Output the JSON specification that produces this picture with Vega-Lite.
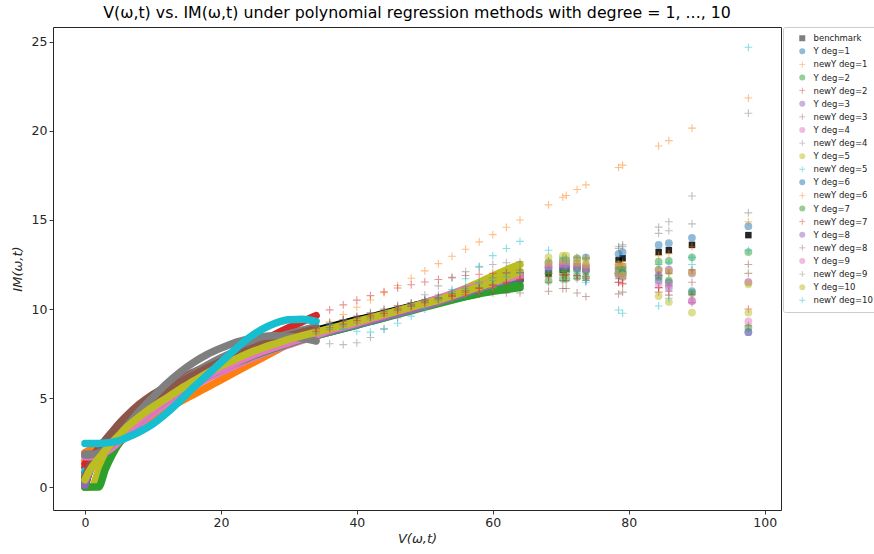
{
"$schema": "https://vega.github.io/schema/vega-lite/v6.json",
"width": 728, "height": 483,
"autosize": {"type": "none"},
"padding": {"left": 53, "right": 93, "top": 27, "bottom": 44},
"background": "white",
"title": {"text": "V(ω,t) vs. IM(ω,t) under polynomial regression methods with degree = 1, ..., 10", "font": "DejaVu Sans", "fontSize": 15.8, "fontWeight": "normal", "color": "black", "anchor": "middle", "offset": 5},
"data": {"values": [
{"x":0,"a":0,"b":0.6,"c":1.94,"d":0.5,"e":1.1,"f":0.2,"g":0.8,"h":1.75,"i":1.85,"j":0.0,"k":0.9,"l":0.3,"m":1.5,"n":0.0,"o":1.3,"p":0.1,"q":0.5,"r":1.7,"s":1.8,"t":0.4,"u":2.45},
{"x":0.5,"a":0.7,"b":1.0,"c":2.04,"d":0.9,"e":1.27,"f":0.75,"g":1.2,"h":1.75,"i":1.85,"j":0.0,"k":1.2,"l":0.85,"m":1.6,"n":0.0,"o":1.5,"p":0.7,"q":1.0,"r":1.7,"s":1.8,"t":0.8,"u":2.45},
{"x":1,"a":1.2,"b":1.3,"c":2.14,"d":1.2,"e":1.44,"f":1.15,"g":1.55,"h":1.78,"i":1.87,"j":0.0,"k":1.45,"l":1.2,"m":1.75,"n":0.0,"o":1.7,"p":1.1,"q":1.4,"r":1.72,"s":1.82,"t":1.1,"u":2.45},
{"x":2,"a":1.95,"b":1.8,"c":2.35,"d":1.7,"e":1.77,"f":1.75,"g":2.15,"h":1.85,"i":1.95,"j":0.9,"k":1.9,"l":1.85,"m":2.05,"n":0.0,"o":2.1,"p":1.7,"q":2.05,"r":1.8,"s":1.9,"t":1.6,"u":2.45},
{"x":3,"a":2.5,"b":2.2,"c":2.55,"d":2.15,"e":2.1,"f":2.2,"g":2.65,"h":1.95,"i":2.15,"j":1.6,"k":2.35,"l":2.35,"m":2.4,"n":1.0,"o":2.5,"p":2.2,"q":2.6,"r":1.95,"s":2.1,"t":2.05,"u":2.47},
{"x":4,"a":2.95,"b":2.6,"c":2.76,"d":2.6,"e":2.42,"f":2.6,"g":3.1,"h":2.1,"i":2.5,"j":2.2,"k":2.75,"l":2.8,"m":2.75,"n":1.8,"o":2.9,"p":2.65,"q":3.05,"r":2.2,"s":2.45,"t":2.5,"u":2.52},
{"x":5,"a":3.35,"b":3.0,"c":2.96,"d":3.0,"e":2.74,"f":3.0,"g":3.55,"h":2.45,"i":2.9,"j":2.7,"k":3.15,"l":3.2,"m":3.1,"n":2.45,"o":3.25,"p":3.05,"q":3.45,"r":2.55,"s":2.9,"t":2.9,"u":2.6},
{"x":6,"a":3.7,"b":3.35,"c":3.16,"d":3.4,"e":3.05,"f":3.35,"g":3.95,"h":2.85,"i":3.3,"j":3.1,"k":3.5,"l":3.55,"m":3.45,"n":2.95,"o":3.6,"p":3.4,"q":3.8,"r":2.95,"s":3.35,"t":3.3,"u":2.75},
{"x":8,"a":4.3,"b":4.0,"c":3.57,"d":4.05,"e":3.66,"f":3.95,"g":4.65,"h":3.55,"i":4.05,"j":3.8,"k":4.1,"l":4.15,"m":4.05,"n":3.7,"o":4.2,"p":4.0,"q":4.4,"r":3.7,"s":4.25,"t":3.95,"u":3.1},
{"x":10,"a":4.85,"b":4.55,"c":3.98,"d":4.6,"e":4.25,"f":4.5,"g":5.2,"h":4.15,"i":4.75,"j":4.4,"k":4.65,"l":4.7,"m":4.6,"n":4.35,"o":4.75,"p":4.55,"q":4.95,"r":4.35,"s":5.05,"t":4.5,"u":3.55},
{"x":12,"a":5.35,"b":5.05,"c":4.39,"d":5.1,"e":4.82,"f":5.0,"g":5.65,"h":4.7,"i":5.35,"j":4.95,"k":5.15,"l":5.2,"m":5.1,"n":4.9,"o":5.25,"p":5.05,"q":5.45,"r":4.9,"s":5.8,"t":5.0,"u":4.15},
{"x":14,"a":5.8,"b":5.5,"c":4.8,"d":5.55,"e":5.36,"f":5.45,"g":6.05,"h":5.2,"i":5.9,"j":5.45,"k":5.6,"l":5.65,"m":5.55,"n":5.4,"o":5.7,"p":5.5,"q":5.9,"r":5.4,"s":6.45,"t":5.5,"u":4.85},
{"x":16,"a":6.2,"b":5.9,"c":5.2,"d":5.95,"e":5.88,"f":5.9,"g":6.45,"h":5.65,"i":6.4,"j":5.9,"k":6.0,"l":6.05,"m":5.95,"n":5.85,"o":6.1,"p":5.9,"q":6.3,"r":5.85,"s":7.0,"t":5.95,"u":5.6},
{"x":18,"a":6.6,"b":6.3,"c":5.61,"d":6.35,"e":6.39,"f":6.3,"g":6.8,"h":6.1,"i":6.85,"j":6.3,"k":6.4,"l":6.45,"m":6.35,"n":6.25,"o":6.5,"p":6.3,"q":6.7,"r":6.25,"s":7.45,"t":6.4,"u":6.3},
{"x":20,"a":6.95,"b":6.65,"c":6.02,"d":6.7,"e":6.87,"f":6.65,"g":7.15,"h":6.45,"i":7.25,"j":6.65,"k":6.75,"l":6.8,"m":6.7,"n":6.6,"o":6.85,"p":6.65,"q":7.05,"r":6.6,"s":7.8,"t":6.8,"u":7.0},
{"x":22,"a":7.3,"b":7.0,"c":6.43,"d":7.05,"e":7.33,"f":7.0,"g":7.5,"h":6.8,"i":7.6,"j":7.0,"k":7.1,"l":7.15,"m":7.05,"n":6.95,"o":7.2,"p":7.0,"q":7.4,"r":6.95,"s":8.1,"t":7.15,"u":7.7},
{"x":24,"a":7.6,"b":7.3,"c":6.84,"d":7.35,"e":7.76,"f":7.35,"g":7.8,"h":7.15,"i":7.9,"j":7.3,"k":7.4,"l":7.45,"m":7.35,"n":7.25,"o":7.5,"p":7.3,"q":7.7,"r":7.3,"s":8.3,"t":7.5,"u":8.35},
{"x":26,"a":7.9,"b":7.6,"c":7.24,"d":7.65,"e":8.18,"f":7.65,"g":8.1,"h":7.45,"i":8.15,"j":7.6,"k":7.7,"l":7.75,"m":7.65,"n":7.55,"o":7.8,"p":7.6,"q":8.0,"r":7.6,"s":8.45,"t":7.8,"u":8.85},
{"x":28,"a":8.15,"b":7.85,"c":7.65,"d":7.9,"e":8.58,"f":7.9,"g":8.35,"h":7.75,"i":8.4,"j":7.85,"k":7.95,"l":8.0,"m":7.9,"n":7.8,"o":8.05,"p":7.85,"q":8.25,"r":7.85,"s":8.5,"t":8.05,"u":9.2},
{"x":30,"a":8.4,"b":8.1,"c":8.06,"d":8.15,"e":8.95,"f":8.15,"g":8.6,"h":8.0,"i":8.6,"j":8.1,"k":8.2,"l":8.25,"m":8.15,"n":8.05,"o":8.3,"p":8.1,"q":8.5,"r":8.1,"s":8.45,"t":8.3,"u":9.4},
{"x":32,"a":8.6,"b":8.3,"c":8.47,"d":8.4,"e":9.3,"f":8.4,"g":8.8,"h":8.25,"i":8.8,"j":8.35,"k":8.45,"l":8.45,"m":8.4,"n":8.3,"o":8.55,"p":8.35,"q":8.7,"r":8.35,"s":8.35,"t":8.5,"u":9.42},
{"x":34,"a":8.8,"b":8.5,"c":8.88,"d":8.6,"e":9.63,"f":8.6,"g":9.0,"h":8.5,"i":9.0,"j":8.55,"k":8.65,"l":8.65,"m":8.6,"n":8.5,"o":8.75,"p":8.55,"q":8.9,"r":8.55,"s":8.2,"t":8.7,"u":9.3},
{"x":36,"a":9.0,"b":8.7,"c":9.28,"d":8.8,"e":9.95,"f":8.8,"g":9.2,"h":8.7,"i":9.2,"j":8.75,"k":8.85,"l":8.85,"m":8.8,"n":8.7,"o":8.95,"p":8.75,"q":9.1,"r":8.8,"s":8.05,"t":8.9,"u":9.1},
{"x":38,"a":9.2,"b":8.9,"c":9.69,"d":9.0,"e":10.23,"f":9.0,"g":9.4,"h":8.95,"i":9.4,"j":8.95,"k":9.05,"l":9.05,"m":9.0,"n":8.9,"o":9.15,"p":8.95,"q":9.3,"r":9.0,"s":8.0,"t":9.1,"u":8.9},
{"x":40,"a":9.4,"b":9.1,"c":10.1,"d":9.2,"e":10.5,"f":9.2,"g":9.6,"h":9.15,"i":9.55,"j":9.15,"k":9.25,"l":9.25,"m":9.2,"n":9.1,"o":9.35,"p":9.15,"q":9.5,"r":9.2,"s":8.1,"t":9.3,"u":8.75},
{"x":42,"a":9.55,"b":9.3,"c":10.51,"d":9.4,"e":10.75,"f":9.4,"g":9.8,"h":9.4,"i":9.75,"j":9.35,"k":9.45,"l":9.4,"m":9.4,"n":9.3,"o":9.55,"p":9.35,"q":9.65,"r":9.45,"s":8.4,"t":9.5,"u":8.7},
{"x":44,"a":9.75,"b":9.5,"c":10.92,"d":9.6,"e":10.97,"f":9.6,"g":10.0,"h":9.6,"i":9.95,"j":9.55,"k":9.65,"l":9.6,"m":9.6,"n":9.5,"o":9.75,"p":9.55,"q":9.85,"r":9.65,"s":8.9,"t":9.7,"u":8.85},
{"x":46,"a":9.95,"b":9.75,"c":11.32,"d":9.8,"e":11.18,"f":9.8,"g":10.2,"h":9.85,"i":10.15,"j":9.8,"k":9.9,"l":9.8,"m":9.8,"n":9.7,"o":9.95,"p":9.75,"q":10.05,"r":9.9,"s":9.5,"t":9.9,"u":9.2},
{"x":48,"a":10.15,"b":10.0,"c":11.73,"d":10.0,"e":11.36,"f":10.0,"g":10.35,"h":10.05,"i":10.35,"j":10.05,"k":10.15,"l":10.0,"m":10.0,"n":9.9,"o":10.15,"p":9.95,"q":10.25,"r":10.1,"s":10.2,"t":10.1,"u":9.6},
{"x":50,"a":10.35,"b":10.25,"c":12.14,"d":10.2,"e":11.52,"f":10.2,"g":10.5,"h":10.3,"i":10.55,"j":10.3,"k":10.4,"l":10.2,"m":10.2,"n":10.1,"o":10.35,"p":10.15,"q":10.45,"r":10.35,"s":10.8,"t":10.3,"u":10.0},
{"x":52,"a":10.55,"b":10.5,"c":12.55,"d":10.4,"e":11.66,"f":10.45,"g":10.6,"h":10.55,"i":10.8,"j":10.55,"k":10.65,"l":10.4,"m":10.4,"n":10.3,"o":10.55,"p":10.4,"q":10.65,"r":10.6,"s":11.3,"t":10.5,"u":10.5},
{"x":54,"a":10.75,"b":10.75,"c":12.96,"d":10.55,"e":11.78,"f":10.7,"g":10.7,"h":10.8,"i":11.0,"j":10.85,"k":10.9,"l":10.6,"m":10.6,"n":10.5,"o":10.75,"p":10.65,"q":10.85,"r":10.85,"s":11.75,"t":10.75,"u":11.1},
{"x":56,"a":10.95,"b":11.0,"c":13.36,"d":10.7,"e":11.88,"f":10.95,"g":10.8,"h":11.0,"i":11.25,"j":11.15,"k":11.15,"l":10.8,"m":10.8,"n":10.7,"o":10.95,"p":10.9,"q":11.05,"r":11.1,"s":12.1,"t":11.0,"u":11.7},
{"x":58,"a":11.15,"b":11.25,"c":13.77,"d":10.85,"e":11.95,"f":11.2,"g":10.85,"h":11.25,"i":11.5,"j":11.5,"k":11.4,"l":11.0,"m":11.0,"n":10.9,"o":11.15,"p":11.15,"q":11.2,"r":11.3,"s":12.35,"t":11.25,"u":12.4},
{"x":60,"a":11.35,"b":11.5,"c":14.18,"d":11.0,"e":12.01,"f":11.45,"g":10.9,"h":11.5,"i":11.75,"j":11.85,"k":11.6,"l":11.2,"m":11.2,"n":11.05,"o":11.35,"p":11.4,"q":11.35,"r":11.5,"s":12.5,"t":11.5,"u":13.0},
{"x":62,"a":11.5,"b":11.75,"c":14.59,"d":11.1,"e":12.04,"f":11.7,"g":10.9,"h":11.75,"i":12.0,"j":12.2,"k":11.8,"l":11.4,"m":11.45,"n":11.2,"o":11.5,"p":11.65,"q":11.45,"r":11.7,"s":12.6,"t":11.8,"u":13.4},
{"x":64,"a":11.65,"b":12.0,"c":15.0,"d":11.2,"e":12.05,"f":11.95,"g":10.9,"h":12.0,"i":12.2,"j":12.5,"k":12.0,"l":11.6,"m":11.7,"n":11.35,"o":11.65,"p":11.85,"q":11.55,"r":11.9,"s":12.65,"t":12.1,"u":13.8},
{"x":68.2,"a":12.0,"b":12.6,"c":15.85,"d":11.6,"e":12.01,"f":12.4,"g":11.0,"h":12.5,"i":12.3,"j":12.9,"k":12.1,"l":12.2,"m":12.0,"n":12.0,"o":11.8,"p":12.3,"q":11.5,"r":12.4,"s":12.7,"t":12.6,"u":13.3},
{"x":70.3,"a":12.2,"b":12.7,"c":16.28,"d":11.7,"e":11.94,"f":12.5,"g":11.15,"h":12.6,"i":12.5,"j":13.0,"k":12.2,"l":12.3,"m":12.1,"n":12.1,"o":11.9,"p":12.4,"q":11.6,"r":12.5,"s":12.8,"t":12.7,"u":12.9},
{"x":70.8,"a":12.25,"b":12.75,"c":16.38,"d":11.7,"e":11.94,"f":12.5,"g":11.15,"h":12.6,"i":12.55,"j":13.0,"k":12.2,"l":12.3,"m":12.1,"n":12.1,"o":11.9,"p":12.4,"q":11.6,"r":12.5,"s":12.85,"t":12.7,"u":12.7},
{"x":72.4,"a":12.4,"b":12.85,"c":16.71,"d":11.8,"e":11.87,"f":12.5,"g":10.9,"h":12.6,"i":12.7,"j":12.85,"k":12.0,"l":12.3,"m":12.2,"n":12.2,"o":11.9,"p":12.3,"q":11.7,"r":12.4,"s":12.9,"t":12.6,"u":12.1},
{"x":73.7,"a":12.3,"b":12.9,"c":16.97,"d":11.8,"e":11.81,"f":12.4,"g":10.7,"h":12.5,"i":12.85,"j":12.8,"k":11.5,"l":12.2,"m":12.2,"n":12.1,"o":11.7,"p":12.2,"q":11.6,"r":12.3,"s":12.85,"t":12.5,"u":11.6},
{"x":78.5,"a":12.75,"b":13.1,"c":17.95,"d":12.0,"e":11.5,"f":12.4,"g":10.85,"h":12.3,"i":13.5,"j":12.5,"k":12.0,"l":12.0,"m":12.5,"n":12.2,"o":11.5,"p":11.9,"q":11.7,"r":12.0,"s":13.4,"t":12.0,"u":9.94},
{"x":79.1,"a":12.85,"b":13.2,"c":18.08,"d":12.0,"e":11.45,"f":12.4,"g":10.95,"h":12.3,"i":13.6,"j":12.4,"k":12.1,"l":12.0,"m":12.55,"n":12.2,"o":11.4,"p":11.8,"q":11.7,"r":11.9,"s":13.5,"t":11.9,"u":9.76},
{"x":84.4,"a":13.2,"b":13.6,"c":19.16,"d":12.66,"e":10.95,"f":12.2,"g":11.2,"h":12.2,"i":14.6,"j":12.2,"k":12.5,"l":11.6,"m":13.0,"n":11.8,"o":11.2,"p":11.9,"q":11.9,"r":11.4,"s":14.25,"t":10.73,"u":10.17},
{"x":85.9,"a":13.3,"b":13.7,"c":19.46,"d":12.7,"e":10.78,"f":12.2,"g":11.3,"h":12.2,"i":14.9,"j":12.1,"k":12.6,"l":11.5,"m":13.1,"n":11.6,"o":11.0,"p":11.2,"q":12.0,"r":11.4,"s":14.4,"t":10.4,"u":10.6},
{"x":89.3,"a":13.6,"b":14.0,"c":20.16,"d":12.9,"e":10.36,"f":12.0,"g":11.5,"h":12.06,"i":16.35,"j":12.06,"k":12.9,"l":11.0,"m":13.5,"n":10.9,"o":10.8,"p":10.45,"q":12.2,"r":10.45,"s":14.78,"t":9.8,"u":12.5},
{"x":97.6,"a":14.15,"b":14.65,"c":21.85,"d":13.2,"e":9.06,"f":11.5,"g":12.0,"h":11.53,"i":21.0,"j":11.39,"k":13.3,"l":8.7,"m":14.9,"n":8.95,"o":10.0,"p":8.7,"q":12.5,"r":9.3,"s":15.4,"t":9.8,"u":24.7}
]},
"transform": [
 {"fold": ["a","b","c","d","e","f","g","h","i","j","k","l","m","n","o","p","q","r","s","t","u"], "as": ["k","v"]},
 {"filter": "isValid(datum.v)"}
],
"encoding": {
 "x": {"field": "x", "type": "quantitative", "scale": {"domain": [-4.7, 102.4], "nice": false, "zero": false},
   "axis": {"values": [0,20,40,60,80,100], "title": "V(ω,t)", "titlePadding": 4, "labelFlush": false}},
 "y": {"field": "v", "type": "quantitative", "scale": {"domain": [-1.29, 25.84], "nice": false, "zero": false},
   "axis": {"values": [0,5,10,15,20,25], "title": "IM(ω,t)", "titlePadding": 7}}
},
"layer": [
 {"transform": [{"filter": "datum.x <= 64 && (datum.x <= 35 || indexof('abdfhjlnprt', datum.k) >= 0)"}],
  "mark": {"type": "line", "strokeWidth": 7.5, "strokeCap": "round", "strokeJoin": "round", "interpolate": "monotone"},
  "encoding": {"stroke": {"field": "k", "type": "nominal", "legend": null,
    "scale": {"domain": ["a","b","c","d","e","f","g","h","i","j","k","l","m","n","o","p","q","r","s","t","u","zz"],
      "range": ["#000000","#1f77b4","#ff7f0e","#2ca02c","#d62728","#9467bd","#8c564b","#e377c2","#7f7f7f","#bcbd22","#17becf","#1f77b4","#ff7f0e","#2ca02c","#d62728","#9467bd","#8c564b","#e377c2","#7f7f7f","#bcbd22","#17becf","#ffffff"]}}}},
 {"transform": [{"filter": "datum.k == 'a' && datum.x > 64"}],
  "mark": {"type": "point", "shape": "square", "filled": true, "size": 42, "opacity": 0.85, "color": "#000000"},
  "encoding": {}},
 {"transform": [{"filter": "datum.k != 'a' && (datum.x > 64 || (datum.x >= 34 && indexof('cegikmoqsu', datum.k) >= 0))"}],
  "mark": {"type": "point", "filled": true, "size": 60, "opacity": 0.5},
  "encoding": {
   "color": {"field": "k", "type": "nominal",
    "scale": {"domain": ["a","b","c","d","e","f","g","h","i","j","k","l","m","n","o","p","q","r","s","t","u"],
      "range": ["#000000","#1f77b4","#ff7f0e","#2ca02c","#d62728","#9467bd","#8c564b","#e377c2","#7f7f7f","#bcbd22","#17becf","#1f77b4","#ff7f0e","#2ca02c","#d62728","#9467bd","#8c564b","#e377c2","#7f7f7f","#bcbd22","#17becf"]},
    "legend": {"title": null, "orient": "right", "offset": 2,
      "labelExpr": "datum.value == 'a' ? 'benchmark' : (indexof('bdfhjlnprt', datum.value) >= 0 ? 'Y deg=' : 'newY deg=') + (floor((indexof('abcdefghijklmnopqrstu', datum.value) + 1) / 2))",
      "labelFont": "DejaVu Sans", "labelFontSize": 8.5, "labelColor": "#222222", "labelOffset": 7,
      "symbolSize": 36, "symbolOffset": 8, "rowPadding": 4.1, "padding": 7,
      "strokeColor": "#cccccc", "cornerRadius": 2, "fillColor": "white"}},
   "shape": {"field": "k", "type": "nominal",
    "scale": {"domain": ["a","b","c","d","e","f","g","h","i","j","k","l","m","n","o","p","q","r","s","t","u"],
      "range": ["square","circle","M-1,-0.14H1V0.14H-1ZM-0.14,-1H0.14V1H-0.14Z","circle","M-1,-0.14H1V0.14H-1ZM-0.14,-1H0.14V1H-0.14Z","circle","M-1,-0.14H1V0.14H-1ZM-0.14,-1H0.14V1H-0.14Z","circle","M-1,-0.14H1V0.14H-1ZM-0.14,-1H0.14V1H-0.14Z","circle","M-1,-0.14H1V0.14H-1ZM-0.14,-1H0.14V1H-0.14Z","circle","M-1,-0.14H1V0.14H-1ZM-0.14,-1H0.14V1H-0.14Z","circle","M-1,-0.14H1V0.14H-1ZM-0.14,-1H0.14V1H-0.14Z","circle","M-1,-0.14H1V0.14H-1ZM-0.14,-1H0.14V1H-0.14Z","circle","M-1,-0.14H1V0.14H-1ZM-0.14,-1H0.14V1H-0.14Z","circle","M-1,-0.14H1V0.14H-1ZM-0.14,-1H0.14V1H-0.14Z"]}}
  }}
],
"config": {
 "view": {"stroke": "#262626", "strokeWidth": 1},
 "font": "DejaVu Sans",
 "axis": {"grid": false, "domain": false, "tickColor": "#262626", "tickSize": 4, "tickWidth": 0.9, "labelFont": "DejaVu Sans", "labelFontSize": 12.5, "labelColor": "#262626", "labelPadding": 2, "titleFont": "DejaVu Sans", "titleFontSize": 13, "titleFontWeight": "normal", "titleFontStyle": "italic", "titleColor": "#262626"}
}
}
